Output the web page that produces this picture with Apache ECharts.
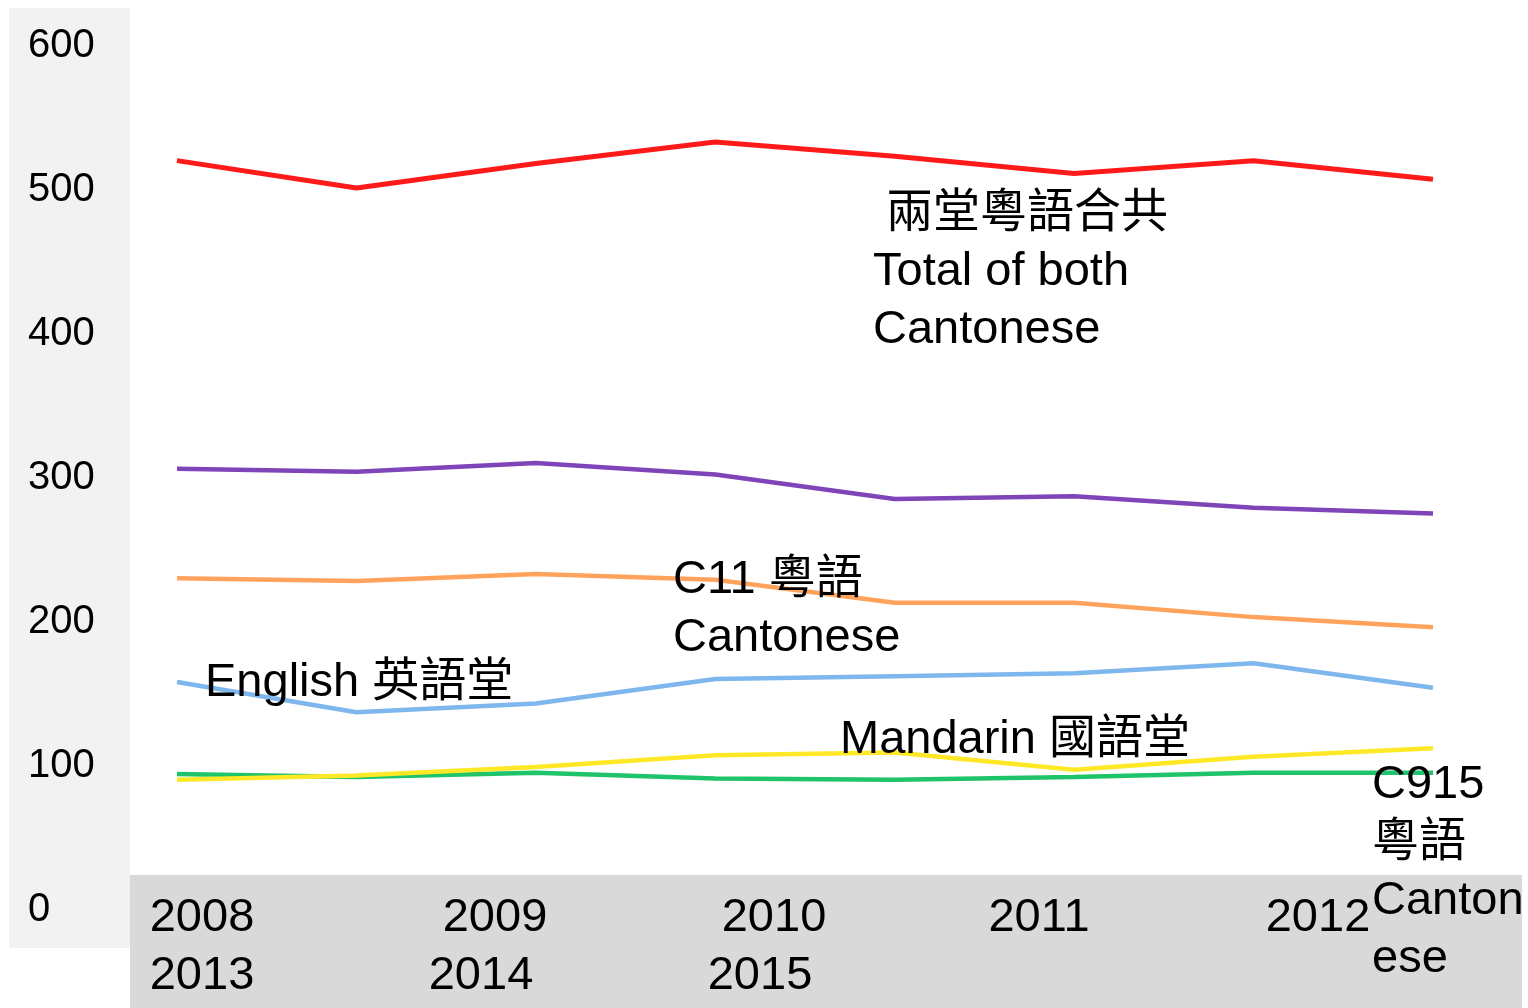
<!DOCTYPE html>
<html>
<head>
<meta charset="utf-8">
<script src="https://cdn.jsdelivr.net/npm/echarts@6/dist/echarts.min.js"></script>
<style>
html,body{margin:0;padding:0;background:#fff;}
#chart{width:1528px;height:1008px;}
</style>
</head>
<body>
<div id="chart"></div>
<script>
// ---- data ----
const years = ['2008','2009','2010','2011','2012','2013','2014','2015'];
const xTickLabels = ['2008\n2013','2009\n2014','2010\n2015','2011','2012'];
const yTicks = [0,100,200,300,400,500,600];

const totalCantonese = [519, 500, 517, 532, 522, 510, 519, 506];
const purpleSeries   = [305, 303, 309, 301, 284, 286, 278, 274];
const orangeSeries   = [229, 227, 232, 228, 212, 212, 202, 195];
const english        = [157, 136, 142, 159, 161, 163, 170, 153];
const mandarin       = [89, 92, 98, 106, 108, 96, 105, 111];
const greenSeries    = [93, 91, 94, 90, 89, 91, 94, 94];

const annotations = [
  ' 兩堂粵語合共\nTotal of both\nCantonese',
  'C11 粵語\nCantonese',
  'English 英語堂',
  'Mandarin 國語堂',
  'C915\n粵語\nCanton\nese'
];

const FONT = '"Liberation Sans", Arial, "Noto Sans CJK TC", sans-serif';

const chart = echarts.init(document.getElementById('chart'), null, {renderer:'canvas'});

function lineSeries(name, data, color, width){
  return {
    name, type:'line', data, xAxisIndex:0, yAxisIndex:0,
    showSymbol:false, symbol:'none',
    lineStyle:{color, width: width || 4},
    itemStyle:{color},
    emphasis:{disabled:true},
    silent:true
  };
}

const annPos = [
  {x:873, y:185},
  {x:673, y:551},
  {x:205, y:654},
  {x:840, y:711},
  {x:1372, y:756}
];

const graphics = [
  {type:'rect', z:-10, shape:{x:9, y:8, width:121, height:940}, style:{fill:'#f2f2f2'}},
  {type:'rect', z:-10, shape:{x:130, y:875, width:1392, height:133}, style:{fill:'#d9d9d9'}}
];
annotations.forEach((t,i)=>{
  graphics.push({
    type:'text', z:100, x:annPos[i].x, y:annPos[i].y,
    style:{text:t, fill:'#000', fontSize:47, fontFamily:FONT, lineHeight:58, align:'left', verticalAlign:'top'}
  });
});

const xLabelStyle = {fontSize:47, lineHeight:58, color:'#000', fontFamily:FONT};

const option = {
  backgroundColor:'#ffffff',
  animation:false,
  grid:[
    {left:177, right:95, top:44, bottom:100, containLabel:false},
    {left:202, right:210, top:44, bottom:128, containLabel:false}
  ],
  xAxis:[
    {type:'category', gridIndex:0, data:years, boundaryGap:false,
     axisLine:{show:false}, axisTick:{show:false}, axisLabel:{show:false}, splitLine:{show:false}},
    {type:'category', gridIndex:1, data:xTickLabels, boundaryGap:false,
     axisLine:{show:false}, axisTick:{show:false}, splitLine:{show:false},
     axisLabel:{show:true, interval:0, fontSize:47, lineHeight:58, margin:9, color:'#000', fontFamily:FONT, align:'center',
       formatter:function(v, i){
         const parts = v.split('\n');
         if (parts.length > 1 && i > 0) {
           return '{a|' + parts[0] + '}\n{b|' + parts[1] + '}';
         }
         return parts.map(p => '{b|' + p + '}').join('\n');
       },
       rich:{
         a:Object.assign({padding:[0,0,0,28]}, xLabelStyle),
         b:Object.assign({}, xLabelStyle)
       }
     }}
  ],
  yAxis:[
    {type:'value', gridIndex:0, min:yTicks[0], max:yTicks[yTicks.length-1], interval:100,
     axisLine:{show:false}, axisTick:{show:false}, splitLine:{show:false},
     axisLabel:{color:'#000', align:'left', margin:149,
       formatter:function(v){ return '{n|' + v + '}'; },
       rich:{ n:{fontSize:40, color:'#000', fontFamily:FONT, padding:[4,0,0,0]} }
     }},
    {type:'value', gridIndex:1, show:false, min:0, max:600}
  ],
  series:[
    lineSeries('兩堂粵語合共 Total of both Cantonese', totalCantonese, '#ff1a1a', 5),
    lineSeries('C11 粵語 Cantonese', purpleSeries, '#7f45b8', 4.5),
    lineSeries('C915 粵語 Cantonese', orangeSeries, '#ffa35c', 4.5),
    lineSeries('English 英語堂', english, '#7db7ee', 4.5),
    lineSeries('Other', greenSeries, '#1fc36a', 4.5),
    lineSeries('Mandarin 國語堂', mandarin, '#ffe825', 4.5)
  ],
  graphic: graphics
};
chart.setOption(option);
</script>
</body>
</html>
